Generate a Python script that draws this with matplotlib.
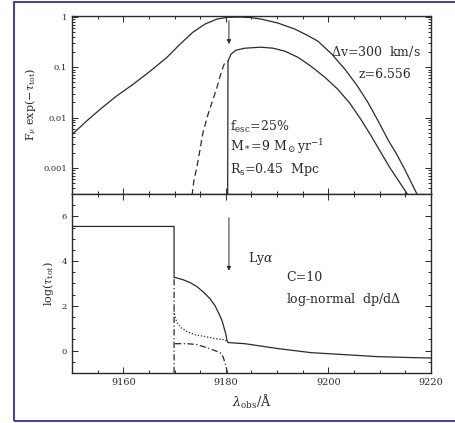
import numpy as np
import matplotlib
matplotlib.use("Agg")
import matplotlib.pyplot as plt
from matplotlib.patches import Rectangle
from matplotlib.ticker import MultipleLocator, LogLocator, NullFormatter, FixedLocator

plt.rcParams['font.family'] = ['DejaVu Serif']
plt.rcParams['mathtext.fontset'] = 'dejavuserif'

# top panel: intrinsic line (solid), transmitted flux (solid) and alternative (dashed)
lam_int = [9150.0, 9152.73, 9155.46, 9158.58, 9161.89, 9165.21, 9168.52, 9171.06, 9173.59,
           9175.93, 9178.27, 9180.42, 9182.76, 9184.70, 9186.85, 9190.16, 9193.47, 9195.82,
           9197.96, 9200.69, 9203.23, 9205.57, 9207.71, 9209.66, 9211.61, 9213.37, 9214.93,
           9215.90, 9216.87, 9217.46]
flux_int = [0.00457, 0.00832, 0.0145, 0.0263, 0.0457, 0.0832, 0.158, 0.288, 0.501,
            0.724, 0.912, 0.99, 1.0, 0.98, 0.912, 0.759, 0.575, 0.437,
            0.331, 0.182, 0.0912, 0.0437, 0.0200, 0.00871, 0.00363, 0.00182, 0.000912,
            0.000575, 0.000363, 0.000275]

lam_obs = [9180.35, 9180.42, 9181.00, 9181.97, 9183.73, 9186.85, 9189.19, 9191.53, 9194.06,
           9196.60, 9199.33, 9201.86, 9204.20, 9206.35, 9208.30, 9210.25, 9212.00, 9213.56,
           9214.73, 9215.51]
flux_obs = [2.0e-4, 0.132, 0.182, 0.219, 0.240, 0.251, 0.240, 0.209, 0.158,
            0.105, 0.0631, 0.0363, 0.0191, 0.00912, 0.00437, 0.00200, 0.00100, 0.000575,
            0.000380, 0.000288]

lam_alt = [9173.40, 9173.79, 9174.37, 9174.96, 9175.54, 9176.52, 9177.49, 9178.27,
           9178.86, 9179.44, 9179.83, 9180.42]
flux_alt = [2.8e-4, 5.75e-4, 1.05e-3, 2.29e-3, 5.0e-3, 0.0115, 0.0229, 0.0398,
            0.066, 0.100, 0.126, 0.132]

# bottom panel: log optical depth
lam_tot = [9150.0, 9169.9, 9169.9, 9170.28, 9171.64, 9173.01, 9174.37, 9175.74, 9176.91,
           9177.88, 9178.66, 9179.25, 9179.64, 9180.03, 9180.22, 9180.42, 9183.7, 9190.2,
           9196.6, 9203.2, 9209.7, 9216.1, 9220.0]
ltau_tot = [5.55, 5.55, 3.26, 3.26, 3.17, 3.04, 2.86, 2.59, 2.32,
            2.01, 1.65, 1.34, 1.03, 0.71, 0.45, 0.36, 0.31, 0.09,
            -0.09, -0.18, -0.27, -0.31, -0.33]

lam_dot = [9169.89, 9170.08, 9170.47, 9171.25, 9172.42, 9173.98, 9175.93, 9177.88, 9179.64, 9180.42]
ltau_dot = [1.79, 1.52, 1.25, 1.03, 0.85, 0.71, 0.63, 0.54, 0.49, 0.40]

lam_dd = [9169.9, 9169.9, np.nan, 9170.08, 9172.42, 9174.37, 9176.32, 9177.88, 9178.86,
          9179.44, 9179.83, 9180.22, 9180.3]
ltau_dd = [-1.0, 3.26, np.nan, 0.31, 0.31, 0.27, 0.13, 0.0, -0.09,
           -0.27, -0.54, -0.89, -1.0]

lya = 9180.6
xticks = [9160, 9180, 9200, 9220]

fig = plt.figure(figsize=(4.56, 4.23), dpi=100)
ax1 = fig.add_axes([0.158, 0.5414, 0.787, 0.4208])
ax2 = fig.add_axes([0.158, 0.1182, 0.787, 0.4232])

lc = '#2a2a2a'
for ax in (ax1, ax2):
    ax.set_xlim(9150, 9220)
    ax.xaxis.set_major_locator(FixedLocator(xticks))
    ax.xaxis.set_minor_locator(MultipleLocator(5))
    ax.tick_params(which='both', direction='in', top=True, right=True,
                   colors=lc, width=0.7)
    ax.tick_params(axis='x', labelsize=7)
    ax.tick_params(axis='y', labelsize=6)
    ax.tick_params(which='major', length=4.5)
    ax.tick_params(which='minor', length=2.5)
    for s in ax.spines.values():
        s.set_linewidth(1.0)
        s.set_color(lc)

ax1.plot(lam_int, flux_int, color=lc, lw=0.9)
ax1.plot(lam_obs, flux_obs, color=lc, lw=0.9)
ax1.plot(lam_alt, flux_alt, color=lc, lw=0.9, ls=(0, (5, 3)))
ax1.set_yscale('log')
ax1.set_ylim(3e-4, 1.05)
ax1.yaxis.set_minor_locator(LogLocator(base=10, subs=np.arange(2, 10)))
ax1.yaxis.set_minor_formatter(NullFormatter())
ax1.set_yticks([0.001, 0.01, 0.1, 1])
ax1.set_yticklabels(['0.001', '0.01', '0.1', '1'])
ax1.set_xticklabels([])
ax1.set_ylabel(r'F$_\nu$ exp($-\tau_{\rm tot}$)', fontsize=8, color=lc)
ax1.annotate('', xy=(lya, 0.29), xytext=(lya, 0.85),
             arrowprops=dict(arrowstyle='-|>', color=lc, lw=0.7,
                             mutation_scale=6, shrinkA=0, shrinkB=0))
fs = 9
ax1.text(0.972, 0.798, r'$\Delta$v=300  km/s', transform=ax1.transAxes,
         ha='right', va='center', fontsize=fs, color=lc)
ax1.text(0.944, 0.669, 'z=6.556', transform=ax1.transAxes,
         ha='right', va='center', fontsize=fs, color=lc)
ax1.text(0.440, 0.376, r'f$_{\rm esc}$=25%', transform=ax1.transAxes,
         ha='left', va='center', fontsize=fs, color=lc)
ax1.text(0.440, 0.264, r'M$_*$=9 M$_\odot$yr$^{-1}$', transform=ax1.transAxes,
         ha='left', va='center', fontsize=fs, color=lc)
ax1.text(0.440, 0.135, r'R$_{\rm s}$=0.45  Mpc', transform=ax1.transAxes,
         ha='left', va='center', fontsize=fs, color=lc)

ax2.plot(lam_tot, ltau_tot, color=lc, lw=0.9)
ax2.plot(lam_dot, ltau_dot, color=lc, lw=0.9, ls=(0, (1, 1.5)))
ax2.plot(lam_dd, ltau_dd, color=lc, lw=0.9, ls=(0, (5, 2, 1, 2)))
ax2.set_ylim(-1, 7)
ax2.yaxis.set_major_locator(FixedLocator([0, 2, 4, 6]))
ax2.yaxis.set_minor_locator(MultipleLocator(0.5))
ax2.set_xticklabels([str(t) for t in xticks])
ax2.set_ylabel(r'log($\tau_{\rm tot}$)', fontsize=8, color=lc)
ax2.set_xlabel(r'$\lambda_{\rm obs}$/$\rm\AA$', fontsize=9, color=lc)
ax2.annotate('', xy=(lya, 3.57), xytext=(lya, 5.94),
             arrowprops=dict(arrowstyle='-|>', color=lc, lw=0.7,
                             mutation_scale=6, shrinkA=0, shrinkB=0))
ax2.text(0.490, 0.642, r'Ly$\alpha$', transform=ax2.transAxes,
         ha='left', va='center', fontsize=fs, color=lc)
ax2.text(0.596, 0.531, 'C=10', transform=ax2.transAxes,
         ha='left', va='center', fontsize=fs, color=lc)
ax2.text(0.596, 0.408, r'log-normal  dp/d$\Delta$', transform=ax2.transAxes,
         ha='left', va='center', fontsize=fs, color=lc)

# blue frame around the figure
fig.patches.append(Rectangle((14 / 456, 2 / 423), 1.0, 419 / 423, transform=fig.transFigure,
                             fill=False, edgecolor='#3d3db4', lw=1.4))

fig.savefig('out.png', dpi=100)
